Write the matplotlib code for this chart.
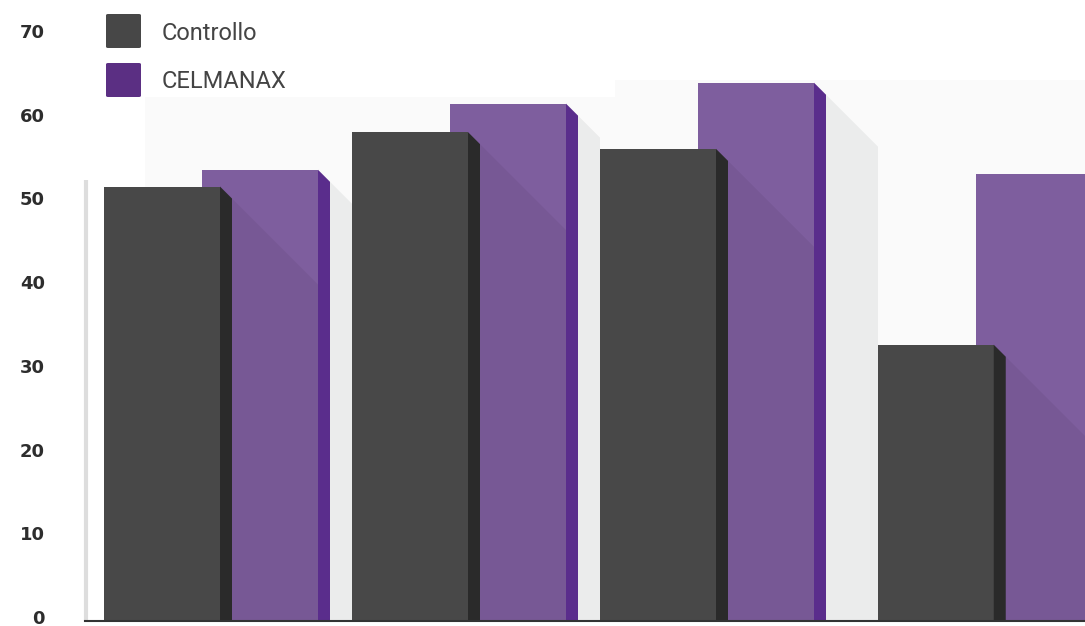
#!/usr/bin/env python3
# Controllo vs CELMANAX - pseudo 3D grouped bar chart

import numpy as np
import matplotlib
matplotlib.use('Agg')
import matplotlib.pyplot as plt
import matplotlib.transforms as mtrans
from matplotlib.patches import Polygon, Rectangle, FancyBboxPatch

# ---- data ---------------------------------------------------------------
series_names=['Controllo','CELMANAX']
groups=['G1','G2','G3','G4']
controllo=[51.9,58.4,56.4,33.0]
celmanax=[53.9,61.8,64.3,53.4]
yticks=[0,10,20,30,40,50,60,70]

# ---- style --------------------------------------------------------------
col_front=['#484848','#7e5e9e']
col_side=['#2a2a2a','#5a2d8c']
col_legend=['#474747','#5b2f83']
group_pos=[0.0,1.0,2.0,3.12]   # layout position of each group


def main():
    W,H=1085,626
    fig=plt.figure(figsize=(W/100,H/100),dpi=100)
    ax_l,ax_r=85,1085
    y0_px,y70_px=621,35
    ax=fig.add_axes([ax_l/W,(H-y0_px)/H,(ax_r-ax_l)/W,(y0_px-y70_px)/H])

    upx=248.0                      # px per x unit
    ypx=(y0_px-y70_px)/70.0         # px per y unit
    k=upx/ypx                       # 45 deg diagonal slope in data units
    xmin=-(104-ax_l)/upx
    xmax=(ax_r-104)/upx
    ax.set_xlim(xmin,xmax)
    ax.set_ylim(0,70)

    w=116/upx        # bar front width
    sw=12/upx        # side strip width
    ch=12/ypx        # chamfer drop
    off=98/upx       # offset of CELMANAX bar

    # faint background panel
    ax.add_patch(Rectangle(((145-104)/upx,0),(615-145)/upx,(621-97)/ypx,
                 facecolor='#fafafa',edgecolor='none',zorder=0))
    ax.add_patch(Rectangle(((615-104)/upx,0),xmax,(621-80)/ypx,
                 facecolor='#fafafa',edgecolor='none',zorder=0))

    for i,gx in enumerate(group_pos):
        c_l=gx
        p_l=gx+off
        c_top=controllo[i]
        p_top=celmanax[i]
        x_end=group_pos[i+1] if i+1<len(group_pos) else xmax+1

        # shadow of purple bar on background
        x_r=p_l+w+sw
        y_t=p_top-ch
        L=5.0
        shp=Polygon([(x_r,y_t),(x_r+L,y_t-L*k),(x_r+L,-2000),(x_r,-2000)],
                    closed=True,facecolor='#ebecec',edgecolor='none',zorder=1)
        ax.add_patch(shp)
        shp.set_clip_path(Rectangle((x_r,0),x_end-x_r,80,transform=ax.transData))

        # purple bar (back)
        pb=ax.bar(p_l,p_top,width=w,align='edge',color=col_front[1],
                  edgecolor='none',zorder=2)[0]
        ax.add_patch(Polygon([(p_l+w,p_top),(p_l+w+sw,p_top-ch),(p_l+w+sw,0),(p_l+w,0)],
                     closed=True,facecolor=col_side[1],edgecolor='none',zorder=2))

        # shadow of gray bar on purple bar
        x_r2=c_l+w+sw
        y_t2=c_top-ch
        shc=Polygon([(x_r2,y_t2),(x_r2+L,y_t2-L*k),(x_r2+L,-2000),(x_r2,-2000)],
                    closed=True,facecolor='black',alpha=0.055,edgecolor='none',zorder=3)
        ax.add_patch(shc)
        shc.set_clip_path(pb)

        # gray bar (front)
        ax.bar(c_l,c_top,width=w,align='edge',color=col_front[0],
               edgecolor='none',zorder=4)
        ax.add_patch(Polygon([(c_l+w,c_top),(c_l+w+sw,c_top-ch),(c_l+w+sw,0),(c_l+w,0)],
                     closed=True,facecolor=col_side[0],edgecolor='none',zorder=4))

    # axes styling
    for s in ['top','right','left']:
        ax.spines[s].set_visible(False)
    ax.spines['bottom'].set_color('#333333')
    ax.spines['bottom'].set_linewidth(1.5)
    ax.spines['bottom'].set_zorder(6)
    ax.set_xticks([])
    ax.set_yticks(yticks)
    ax.set_yticklabels([str(v) for v in yticks])
    ax.tick_params(axis='y',length=0,pad=29,labelsize=13,labelcolor='#2d2d2d')
    shift=mtrans.ScaledTranslation(0,4/100,fig.dpi_scale_trans)
    for lbl in ax.get_yticklabels():
        lbl.set_fontweight('bold')
        lbl.set_fontfamily('DejaVu Sans')
        lbl.set_transform(lbl.get_transform()+shift)

    # faint vertical axis line
    ax.plot([ -(104-86)/upx]*2,[0,(621-180)/ypx],color='#dddddd',lw=3,
            zorder=1,clip_on=False,solid_capstyle='butt')

    # legend (manual)
    leg_y=[31,80]
    for j,name in enumerate(series_names):
        yc=H-leg_y[j]
        fig.patches.append(FancyBboxPatch((106/W,(yc-17)/H),35/W,34/H,
                           boxstyle='round,pad=0,rounding_size=0.002',
                           transform=fig.transFigure,facecolor=col_legend[j],
                           edgecolor='none'))
        fig.text(162/W,(yc-2)/H,name,ha='left',va='center',fontsize=17,
                 color='#444444',family='Roboto')

    fig.savefig('out.png',dpi=100)
    plt.close('all')


if __name__=='__main__':
    main()
